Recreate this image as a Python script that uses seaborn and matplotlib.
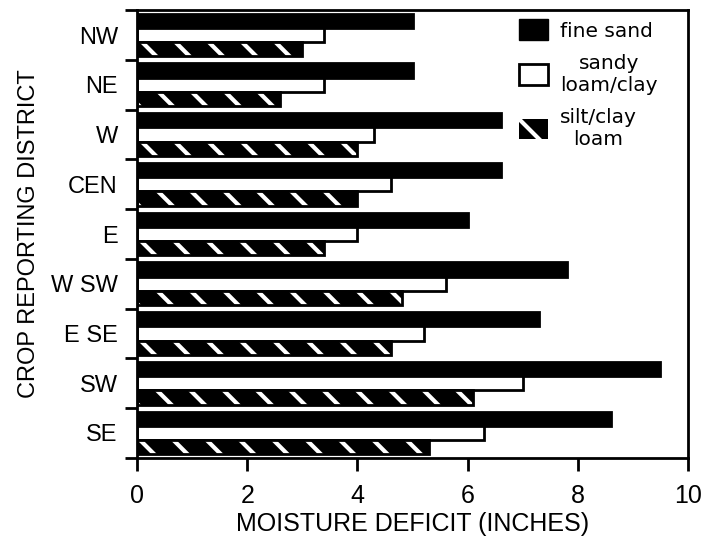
import pandas as pd
import matplotlib
matplotlib.use("Agg")
import matplotlib.pyplot as plt
import seaborn as sns
from matplotlib.patches import Patch

# Valores (polegadas de déficit de umidade)
distritos = ["NW", "NE", "W", "CEN", "E", "W SW", "E SE", "SW", "SE"]
fine_sand = [5.0, 5.0, 6.6, 6.6, 6.0, 7.8, 7.3, 9.5, 8.6]
sandy_loam = [3.4, 3.4, 4.3, 4.6, 4.0, 5.6, 5.2, 7.0, 6.3]
silt_loam = [3.0, 2.6, 4.0, 4.0, 3.4, 4.8, 4.6, 6.1, 5.3]
solos = ["fine sand", "sandy\nloam/clay", "silt/clay\nloam"]

df = pd.DataFrame({
    "distrito": distritos * 3,
    "deficit": fine_sand + sandy_loam + silt_loam,
    "solo": [solos[0]] * 9 + [solos[1]] * 9 + [solos[2]] * 9,
})

sns.set_style("ticks")
plt.rcParams["font.family"] = ["Liberation Sans", "DejaVu Sans"]
plt.rcParams["hatch.linewidth"] = 3.0
plt.rcParams["text.color"] = "black"
plt.rcParams["axes.labelcolor"] = "black"
plt.rcParams["axes.edgecolor"] = "black"
plt.rcParams["xtick.color"] = "black"
plt.rcParams["ytick.color"] = "black"

fig = plt.figure(figsize=(7.04, 5.38), dpi=100)
ax = fig.add_axes([0.195, 0.149, 0.782, 0.832])

sns.barplot(data=df, y="distrito", x="deficit", hue="solo", hue_order=solos,
            order=distritos, orient="h", width=0.86, palette=["black", "white", "black"],
            edgecolor="black", linewidth=2, legend=False, ax=ax)

# barras hachuradas: fundo preto com traços brancos
for barra in ax.containers[2]:
    barra.set_facecolor("black")
    barra.set_edgecolor("black")
    barra.set_hatch("\\")
    barra._hatch_color = (1, 1, 1, 1)

ax.set_xlim(0, 10)
ax.set_ylim(8.5, -0.5)
ax.set_xticks(range(0, 11, 2))
ax.set_yticks([i - 0.5 for i in range(10)])
ax.set_yticklabels([])
ax.set_yticks(range(9), distritos, minor=True)
ax.tick_params(axis="y", which="major", length=9, width=2, direction="out")
ax.tick_params(axis="y", which="minor", length=0, pad=14, labelsize=17)
ax.tick_params(axis="x", length=9, width=2, direction="out", pad=10, labelsize=18)
for s in ax.spines.values():
    s.set_linewidth(2)
    s.set_visible(True)

ax.set_xlabel("MOISTURE DEFICIT (INCHES)", fontsize=18, labelpad=3)
ax.set_ylabel("CROP REPORTING DISTRICT", fontsize=17, labelpad=8)

# legenda
handles = [
    Patch(facecolor="black", edgecolor="black"),
    Patch(facecolor="white", edgecolor="black", linewidth=2),
    Patch(facecolor="black", edgecolor="white", linewidth=0, hatch="\\"),
]
leg = ax.legend(handles, solos, loc="upper right", bbox_to_anchor=(0.978, 1.02),
                frameon=False, handlelength=1.45, handleheight=1.2, labelspacing=0.65,
                handletextpad=0.6, prop={"family": "DejaVu Sans", "size": 14.5})
for t in leg.get_texts():
    t.set_multialignment("center")

fig.savefig("out.png", dpi=100)
